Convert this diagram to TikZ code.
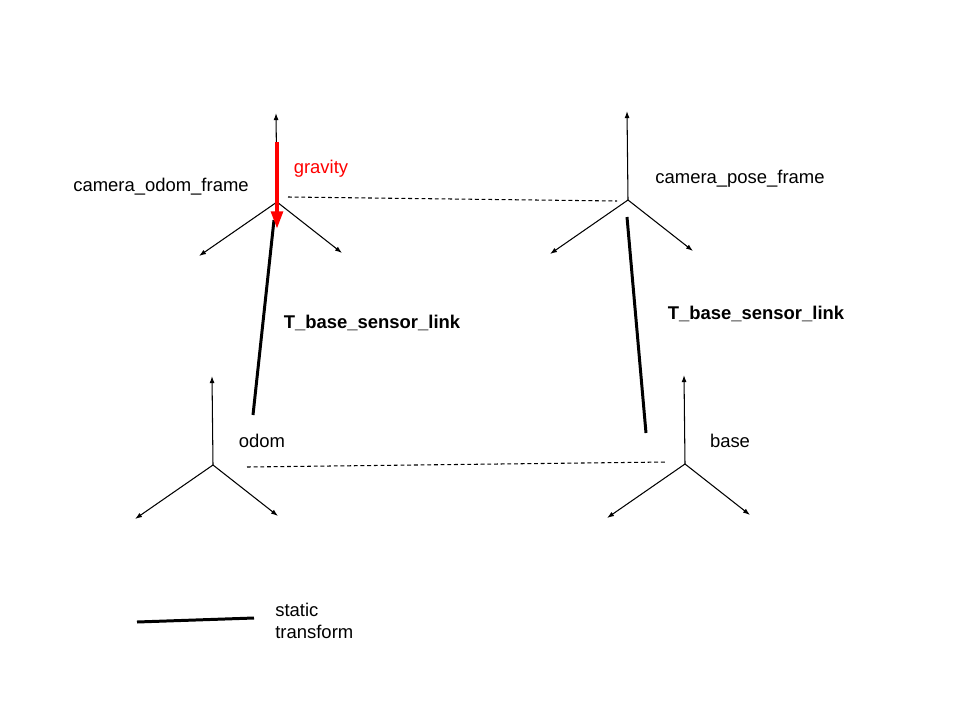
\documentclass[tikz,border=0pt]{standalone}
\usepackage{fontspec}
\setmainfont{Liberation Sans}
\usetikzlibrary{arrows.meta}
\begin{document}
\begin{tikzpicture}[
      x=0.02cm,y=-0.02cm,
      axis/.style={line width=0.6pt,-{Latex[length=4pt,width=2.8pt]}},
      link/.style={line width=1.7pt},
      shared/.style={line width=0.6pt,dash pattern=on 2.2pt off 1.6pt},
      every node/.style={font=\fontsize{10.5}{12.6}\selectfont,inner sep=0pt}
    ]
    \useasboundingbox (0,0) rectangle (960,720);
    \coordinate (codom) at (277,202);
    \coordinate (cpose) at (628,200);
    \coordinate (odom) at (213,465);
    \coordinate (base) at (685,464);
    \foreach \f in {codom,cpose,odom,base} {
        \draw [axis] (\f) -- ++(-1,-89);
        \draw [axis] (\f) -- ++(-78,54);
        \draw [axis] (\f) -- ++(65,51);
    }
    \node (codomlabel) at (161,187) {camera\_odom\_frame};
    \node (cposelabel) at (740,179) {camera\_pose\_frame};
    \node (odomlabel) at (262,441) {odom};
    \node (baselabel) at (730,441) {base};
    \coordinate (dl1) at (288,197);
    \coordinate (dr1) at (617,201);
    \coordinate (dl2) at (247,467);
    \coordinate (dr2) at (667,462);
    \draw [shared] (dl1) -- (dr1);
    \draw [shared] (dl2) -- (dr2);
    \coordinate (sl1) at (274,220);
    \coordinate (sl2) at (253,415);
    \coordinate (sr1) at (627,217);
    \coordinate (sr2) at (646,433);
    \draw [link] (sl1) -- (sl2);
    \draw [link] (sr1) -- (sr2);
    \node [font=\fontsize{10.5}{12.6}\selectfont\bfseries] (tleft) at (372,323) {T\_base\_sensor\_link};
    \node [font=\fontsize{10.5}{12.6}\selectfont\bfseries] (tright) at (756,314) {T\_base\_sensor\_link};
    % gravity in the camera odom frame
    \coordinate (gtop) at (277,142);
    \coordinate (gtip) at (277,229);
    \draw [red,line width=2.3pt,-{Triangle[length=10pt,width=6.5pt]}] (gtop) -- (gtip);
    \node [red] (grav) at (321,169) {gravity};
    \coordinate (leg1) at (137,622);
    \coordinate (leg2) at (254,618);
    \draw [link] (leg1) -- (leg2);
    \node [align=left,anchor=west] (legtext) at (275,621) {static\\transform};
\end{tikzpicture}
\end{document}
